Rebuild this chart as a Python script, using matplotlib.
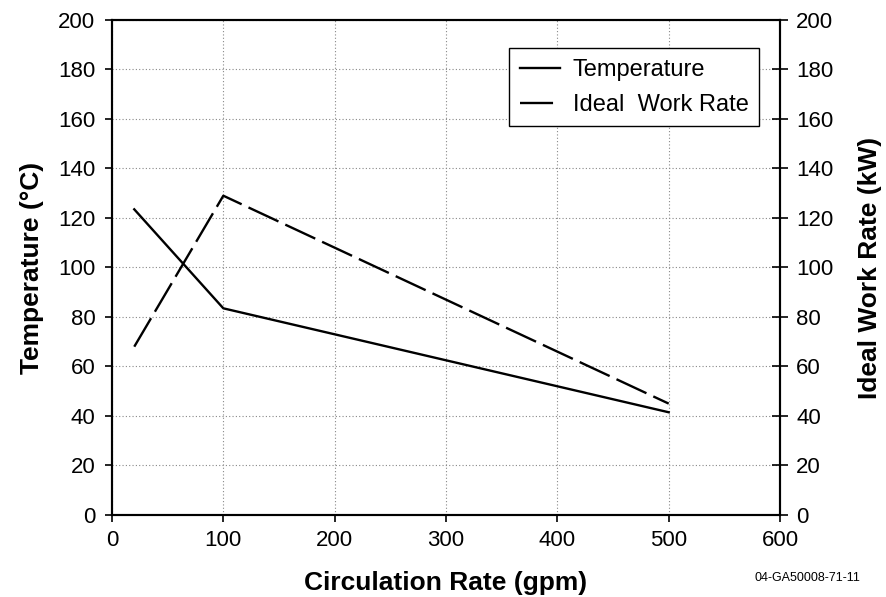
import matplotlib
matplotlib.use('Agg')
import matplotlib.pyplot as plt

plt.rcParams['font.family'] = ['Liberation Sans', 'DejaVu Sans']

# data
rate = [20, 100, 500]
temperature = [123.5, 83.5, 41.5]
work_rate = [68, 129, 45]

fig = plt.figure(figsize=(8.86, 5.97), dpi=100)
ax = fig.add_axes([0.1264, 0.1374, 0.7540, 0.8291])
ax2 = ax.twinx()

l1, = ax.plot(rate, temperature, color='black', lw=1.7, label='Temperature')
l2, = ax2.plot(rate, work_rate, color='black', lw=1.7, dashes=(14, 3.2),
               label='Ideal  Work Rate')

ax.set_xlim(0, 600)
ax.set_ylim(0, 200)
ax2.set_ylim(0, 200)
ax.set_xticks(range(0, 601, 100))
ax.set_yticks(range(0, 201, 20))
ax2.set_yticks(range(0, 201, 20))

ax.grid(True, color='#888888', linestyle=(0, (1, 2)), lw=0.8)
ax.tick_params(axis='y', labelsize=16, length=5, width=1.2, direction='out', pad=7)
ax.tick_params(axis='x', labelsize=16, length=5, width=1.2, direction='out', pad=6)
ax2.tick_params(labelsize=16, length=11, width=1.2, direction='inout', pad=6)
for a in (ax, ax2):
    for s in a.spines.values():
        s.set_linewidth(1.5)

ax.set_xlabel('Circulation Rate (gpm)', fontsize=19, fontweight='bold', labelpad=14)
ax.set_ylabel('Temperature (°C)', fontsize=19, fontweight='bold', labelpad=10)
ax2.set_ylabel('Ideal Work Rate (kW)', fontsize=19, fontweight='bold', labelpad=18)

leg = ax2.legend(handles=[l1, l2], loc='upper right', bbox_to_anchor=(0.969, 0.943),
                 fontsize=17, fancybox=False, framealpha=1, edgecolor='black',
                 handlelength=1.7, handletextpad=0.55, borderpad=0.45,
                 labelspacing=0.55, borderaxespad=0)
leg.get_frame().set_linewidth(1.0)

fig.text(0.971, 0.032, '04-GA50008-71-11', fontsize=9, ha='right', va='center')

fig.savefig('out.png', dpi=100)
